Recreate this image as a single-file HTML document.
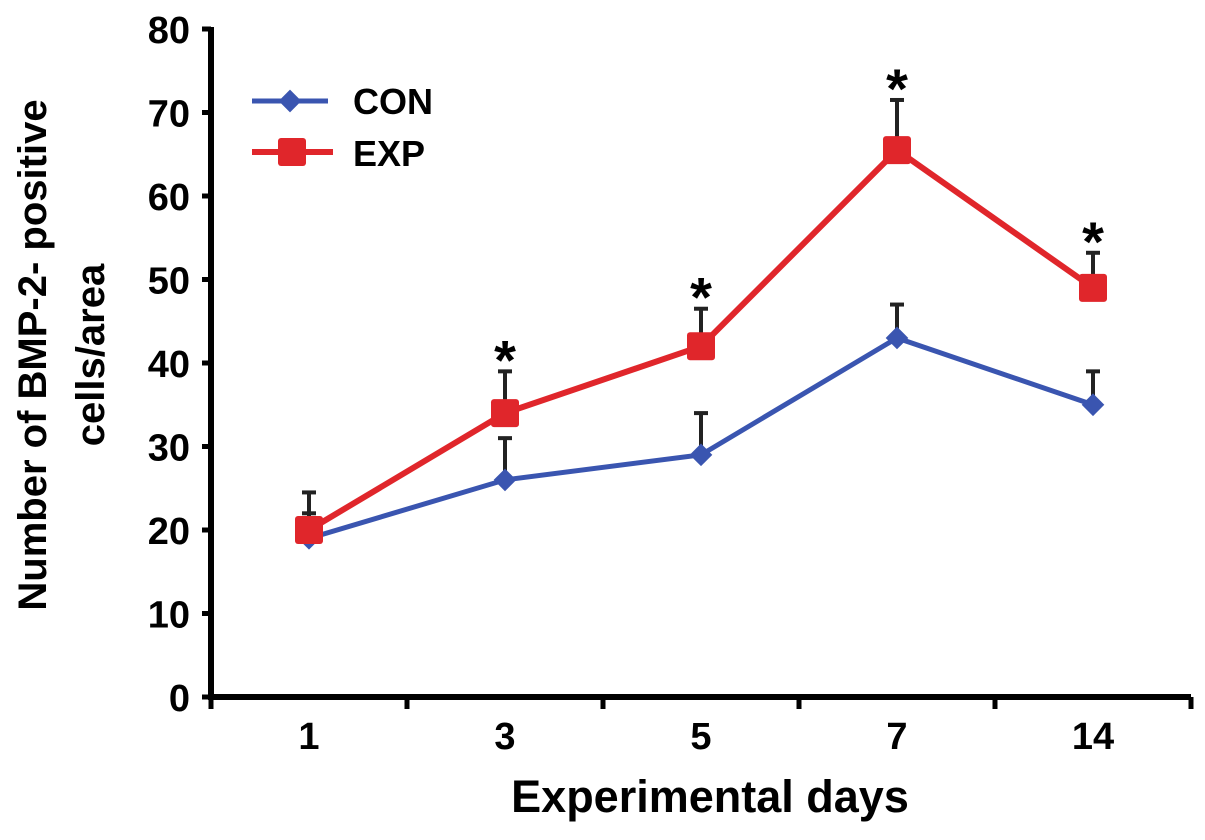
<!DOCTYPE html>
<html><head><meta charset="utf-8"><style>
html,body{margin:0;padding:0;background:#fff}
svg text{font-family:"Liberation Sans",Arial,sans-serif;font-weight:bold;fill:#000}
</style></head><body>
<svg id="chart" width="1205" height="835" viewBox="0 0 1205 835">
<g id="axes"></g>
<g id="series"></g>
<g>
<line x1="252" y1="101" x2="328" y2="101" stroke="#3a55b0" stroke-width="5"/>
<rect x="282" y="93" width="16" height="16" fill="#3a55b0" transform="rotate(45 290 101)"/>
<text x="353" y="114" font-size="36">CON</text>
<line x1="252" y1="152" x2="333" y2="152" stroke="#e0262b" stroke-width="6"/>
<rect x="278" y="138" width="28" height="28" rx="3" fill="#e0262b"/>
<text x="353" y="166" font-size="36">EXP</text>
</g>
<text transform="translate(46,355) rotate(-90)" text-anchor="middle" font-size="40">Number of BMP-2- positive</text>
<text transform="translate(104,355) rotate(-90)" text-anchor="middle" font-size="40">cells/area</text>
<text x="710" y="812" text-anchor="middle" font-size="45">Experimental days</text>
</svg>
<script>
const categories = ["1","3","5","7","14"];
const conValues = [19, 26, 29, 43, 35];
const conErr = [3, 5, 5, 4, 4];
const expValues = [20, 34, 42, 65.5, 49];
const expErr = [4.5, 5, 4.5, 6, 4.2];
const significant = [false, true, true, true, true];
const yTicks = [0,10,20,30,40,50,60,70,80];

const NS = "http://www.w3.org/2000/svg";
const x0 = 211, bandW = 196, yBase = 697, yScale = 8.35;
const xPos = i => x0 + bandW * (i + 0.5);
const yPos = v => yBase - v * yScale;
function mk(tag, attrs, parent){const e=document.createElementNS(NS,tag);for(const k in attrs)e.setAttribute(k,attrs[k]);parent.appendChild(e);return e;}
const axes = document.getElementById('axes');
const series = document.getElementById('series');

let el = mk('line',{x1:x0,y1:yPos(80)-2,x2:x0,y2:yBase+3,stroke:'#000','stroke-width':6},axes);


el = mk('line',{x1:x0-3,y1:yBase,x2:x0+bandW*categories.length,y2:yBase,stroke:'#000','stroke-width':6},axes);


yTicks.forEach(t=>{
  const tk = mk('line',{x1:x0-9,y1:yPos(t),x2:x0,y2:yPos(t),stroke:'#000','stroke-width':5},axes);
  
  
  const lb = mk('text',{x:x0-21,y:yPos(t)+14,'text-anchor':'end','font-size':38},axes);
  lb.textContent = t;
  
  
});
for(let i=0;i<=categories.length;i++){
  const tk = mk('line',{x1:x0+bandW*i,y1:yBase,x2:x0+bandW*i,y2:yBase+12,stroke:'#000','stroke-width':5},axes);
  
  
}
categories.forEach((c,i)=>{
  const lb = mk('text',{x:xPos(i),y:749,'text-anchor':'middle','font-size':38},axes);
  lb.textContent = c;
  
  
});
function errBars(vals, errs, name){
  vals.forEach((v,i)=>{
    const x = xPos(i), top = yPos(v+errs[i]);
    const g = mk('g',{},series);
    
    
    mk('line',{x1:x,y1:yPos(v),x2:x,y2:top,stroke:'#222','stroke-width':4},g);
    mk('line',{x1:x-7,y1:top,x2:x+7,y2:top,stroke:'#222','stroke-width':4},g);
  });
}
errBars(conValues, conErr, 'con');
errBars(expValues, expErr, 'exp');
const conLine = mk('polyline',{points:conValues.map((v,i)=>xPos(i)+','+yPos(v)).join(' '),fill:'none',stroke:'#3a55b0','stroke-width':5},series);


const expLine = mk('polyline',{points:expValues.map((v,i)=>xPos(i)+','+yPos(v)).join(' '),fill:'none',stroke:'#e0262b','stroke-width':6},series);


conValues.forEach((v,i)=>{
  const x=xPos(i), y=yPos(v);
  const m = mk('rect',{x:x-8,y:y-8,width:16,height:16,fill:'#3a55b0',transform:`rotate(45 ${x} ${y})`},series);
  
  
});
expValues.forEach((v,i)=>{
  const x=xPos(i), y=yPos(v);
  const m = mk('rect',{x:x-14,y:y-14,width:28,height:28,rx:3,fill:'#e0262b'},series);
  
  
});
significant.forEach((s,i)=>{
  if(!s) return;
  const t = mk('text',{x:xPos(i),y:yPos(expValues[i]+expErr[i])+8,'text-anchor':'middle','font-size':56},series);
  t.textContent = '*';
  
  
});
</script>
</body></html>
